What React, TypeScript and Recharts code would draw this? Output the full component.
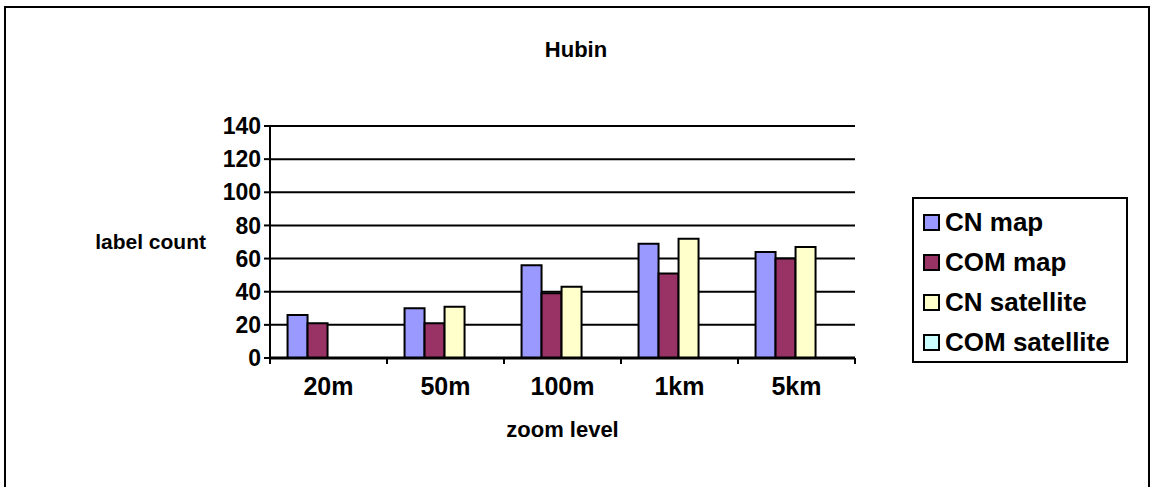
import React from 'react';
import { BarChart, Bar, XAxis, YAxis, CartesianGrid, Label } from 'recharts';

const zoomLevels = ['20m', '50m', '100m', '1km', '5km'];
const cnMap = [26, 30, 56, 69, 64];
const comMap = [21, 21, 39, 51, 60];
const cnSatellite = [0, 31, 43, 72, 67];
const comSatellite = [0, 0, 0, 0, 0];
const yTicks = [0, 20, 40, 60, 80, 100, 120, 140];

const series = [
  { key: 'cnMap', name: 'CN map', color: '#9999FF' },
  { key: 'comMap', name: 'COM map', color: '#993366' },
  { key: 'cnSatellite', name: 'CN satellite', color: '#FFFFCC' },
  { key: 'comSatellite', name: 'COM satellite', color: '#CCFFFF' },
];

const data = zoomLevels.map((level, i) => ({
  level,
  cnMap: cnMap[i],
  comMap: comMap[i],
  cnSatellite: cnSatellite[i],
  comSatellite: comSatellite[i],
}));

const FONT = '"Liberation Sans", Arial, sans-serif';
const PLOT_LEFT = 270;
const PLOT_RIGHT = 855;
const BAND = (PLOT_RIGHT - PLOT_LEFT) / zoomLevels.length;

// category label plus the small tick marks that sit between categories
function CategoryTick(props: any) {
  const { x, y, payload, index } = props;
  const axisY = y - 19;
  return (
    <g>
      <line x1={x - BAND / 2} x2={x - BAND / 2} y1={axisY} y2={axisY + 6} stroke="#000" strokeWidth={2} />
      {index === zoomLevels.length - 1 && (
        <line x1={x + BAND / 2} x2={x + BAND / 2} y1={axisY} y2={axisY + 6} stroke="#000" strokeWidth={2} />
      )}
      <text x={x} y={y} dy="0.71em" textAnchor="middle" fontFamily={FONT} fontWeight="bold" fontSize={25} fill="#000">
        {payload.value}
      </text>
    </g>
  );
}

export default function App() {
  return (
    <div
      style={{
        position: 'absolute',
        left: 0,
        top: 0,
        width: 1151,
        height: 487,
        overflow: 'hidden',
        background: '#fff',
        fontFamily: FONT,
      }}
    >
      <div
        style={{
          position: 'absolute',
          left: 4,
          top: 6,
          width: 1142,
          height: 520,
          border: '2px solid #000',
        }}
      />
      <span
        style={{
          position: 'absolute',
          left: 576,
          top: 37,
          transform: 'translateX(-50%)',
          fontWeight: 'bold',
          fontSize: 22,
          whiteSpace: 'nowrap',
        }}
      >
        Hubin
      </span>
      <div style={{ position: 'absolute', left: 0, top: 0 }}>
        <BarChart
          width={1151}
          height={487}
          data={data}
          margin={{ top: 126, right: 1151 - PLOT_RIGHT, bottom: 99, left: PLOT_LEFT - 60 }}
          barCategoryGap="15%"
          barGap={0}
        >
          <CartesianGrid vertical={false} stroke="#000" strokeWidth={2} />
          <XAxis
            dataKey="level"
            height={30}
            axisLine={{ stroke: '#000', strokeWidth: 3 }}
            tickLine={false}
            tickSize={6}
            tickMargin={13}
            tick={<CategoryTick />}
            interval={0}
          >
            <Label
              value="zoom level"
              position="bottom"
              offset={33}
              style={{ fontFamily: FONT, fontWeight: 'bold', fontSize: 22, fill: '#000' }}
            />
          </XAxis>
          <YAxis
            width={60}
            domain={[0, 140]}
            ticks={yTicks}
            interval={0}
            axisLine={{ stroke: '#000', strokeWidth: 2 }}
            tickLine={{ stroke: '#000', strokeWidth: 2 }}
            tickSize={6}
            tickMargin={3}
            tick={{ fontFamily: FONT, fontWeight: 'bold', fontSize: 23, fill: '#000' }}
          >
            <Label
              value="label count"
              position="left"
              offset={4}
              style={{ fontFamily: FONT, fontWeight: 'bold', fontSize: 21, fill: '#000', textAnchor: 'end' }}
            />
          </YAxis>
          {series.map((s) => (
            <Bar
              key={s.key}
              dataKey={s.key}
              name={s.name}
              fill={s.color}
              stroke="#000"
              strokeWidth={2}
              isAnimationActive={false}
            />
          ))}
        </BarChart>
      </div>
      <div
        style={{
          position: 'absolute',
          left: 912,
          top: 197,
          width: 212,
          height: 159,
          border: '2px solid #000',
          paddingTop: 3,
          boxSizing: 'content-box',
        }}
      >
        {series.map((s) => (
          <div key={s.key} style={{ height: 40, display: 'flex', alignItems: 'center' }}>
            <span
              style={{
                display: 'inline-block',
                width: 13,
                height: 13,
                marginLeft: 9,
                marginRight: 5,
                background: s.color,
                border: '2px solid #000',
              }}
            />
            <span style={{ fontWeight: 'bold', fontSize: 26, whiteSpace: 'nowrap' }}>{s.name}</span>
          </div>
        ))}
      </div>
    </div>
  );
}
